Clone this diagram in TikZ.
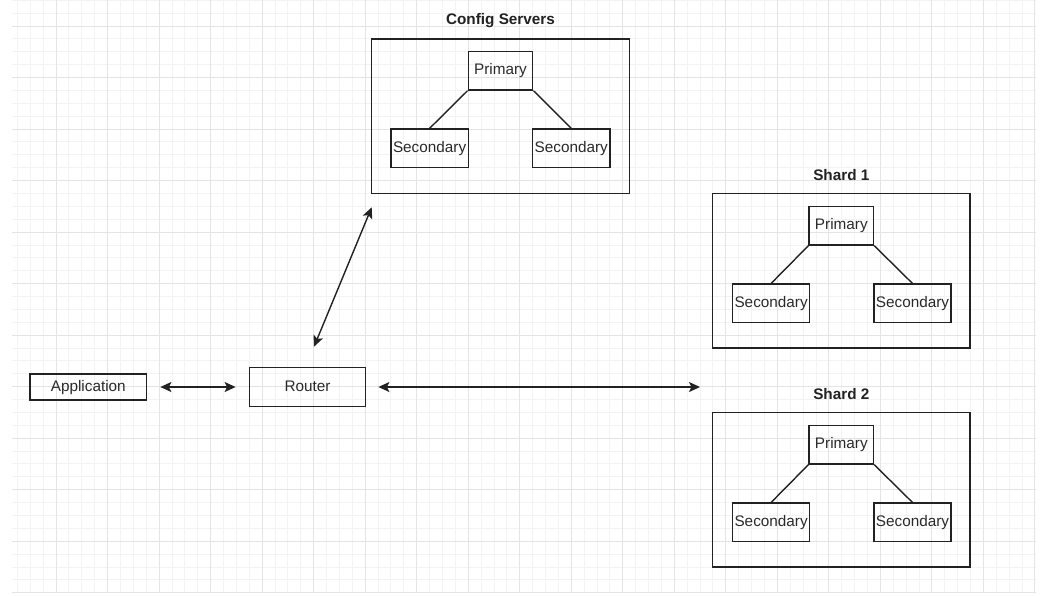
\documentclass[tikz,border=0pt]{standalone}
\usepackage{fontspec}
\setmainfont{Liberation Sans}
\usetikzlibrary{arrows.meta}
\definecolor{gminor}{HTML}{F3F3F3}
\definecolor{gmajor}{HTML}{E4E4E4}
\definecolor{ink}{HTML}{222222}
\definecolor{txt}{HTML}{2A2A2A}
\begin{document}
\begin{tikzpicture}[x=1pt,y=-1pt,
  box/.style={draw=ink, line width=1.4pt, inner sep=0pt, text=txt,
    font=\fontsize{15.3}{18}\selectfont, text height=11pt, text depth=3pt, anchor=center},
  member/.style={box, minimum width=77.3pt, minimum height=38.3pt},
  prim/.style={box, minimum width=64.4pt, minimum height=38.3pt},
  group/.style={draw=ink, line width=1.4pt, inner sep=0pt, minimum width=257.5pt, minimum height=154.5pt},
  title/.style={font=\bfseries\fontsize{15.3}{18}\selectfont, text=ink, inner sep=0pt},
  tie/.style={draw=ink, line width=1.4pt},
  link/.style={draw=ink, line width=1.4pt, {Stealth[length=11pt,width=10pt,inset=2.5pt]}-{Stealth[length=11pt,width=10pt,inset=2.5pt]}}
]
\useasboundingbox (0,0) rectangle (1056,595);
\fill[white] (0,0) rectangle (1056,595);
% grid
\foreach \i in {0,...,79} {\draw[gminor, line width=0.9pt] ({17.4+12.88*\i},0) -- ({17.4+12.88*\i},593);}
\foreach \j in {0,...,46} {\draw[gminor, line width=0.9pt] (12,{0.24+12.88*\j}) -- (1036,{0.24+12.88*\j});}
\foreach \i in {0,...,19} {\draw[gmajor, line width=1pt] ({56.04+51.52*\i},0) -- ({56.04+51.52*\i},593);}
\foreach \j in {0,...,11} {\draw[gmajor, line width=1pt] (12,{26+51.52*\j}) -- (1036,{26+51.52*\j});}

% Config servers
\node[title] (tcfg) at (500.5,20.7) {Config Servers};
\node[group] (cfg) at (500.5,116.2) {};
\node[prim] (cp) at (500.5,70.8) {Primary};
\node[member] (cs1) at (429.6,148.2) {Secondary};
\node[member] (cs2) at (571.3,148.2) {Secondary};
\draw[tie] (cp.south west) -- (cs1.north);
\draw[tie] (cp.south east) -- (cs2.north);

% Shard 1
\node[title] (ts1) at (841.3,175) {Shard 1};
\node[group] (sh1) at (841.3,270.8) {};
\node[prim] (p1) at (841.3,225.8) {Primary};
\node[member] (s1a) at (771.1,303.3) {Secondary};
\node[member] (s1b) at (912.5,303.3) {Secondary};
\draw[tie] (p1.south west) -- (s1a.north);
\draw[tie] (p1.south east) -- (s1b.north);

% Shard 2
\node[title] (ts2) at (841.3,394) {Shard 2};
\node[group] (sh2) at (841.3,489.8) {};
\node[prim] (p2) at (841.3,444.8) {Primary};
\node[member] (s2a) at (771.1,522.3) {Secondary};
\node[member] (s2b) at (912.5,522.3) {Secondary};
\draw[tie] (p2.south west) -- (s2a.north);
\draw[tie] (p2.south east) -- (s2b.north);

% Application and router
\node[box, minimum width=116.7pt, minimum height=26pt] (app) at (88.3,387) {Application};
\node[box, minimum width=116.4pt, minimum height=39.4pt] (rt) at (307.5,387) {Router};

\coordinate (shardend) at (700,387);
\coordinate (diagbot) at (314,346.7);
\coordinate (diagtop) at (371.7,207.3);

\draw[link, shorten <=13pt, shorten >=13pt] (app.east) -- (rt.west);
\draw[link, shorten <=12pt] (rt.east) -- (shardend);
\draw[link] (diagbot) -- (diagtop);
\end{tikzpicture}
\end{document}
